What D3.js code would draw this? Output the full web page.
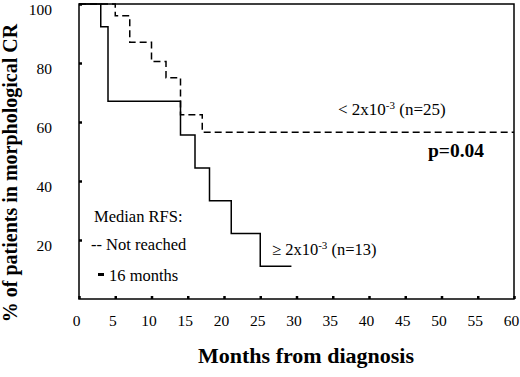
<!DOCTYPE html>
<html>
<head>
<meta charset="utf-8">
<script src="https://cdn.jsdelivr.net/npm/d3@7"></script>
<style>
  body { margin: 0; background: #fff; }
  svg text { font-family: "Liberation Serif", "Times New Roman", serif !important; }
</style>
</head>
<body>
<div id="chart"></div>
<script>
// low MRD group (n=25), dashed
const lowMonths = [0, 5, 7, 10, 12, 14, 17, 60];
const lowPct    = [100, 96, 87, 80.5, 75, 62.5, 56.5, 56.5];

// high MRD group (n=13), solid
const highMonths = [0, 3, 4, 14, 16, 18, 21, 25, 29.3];
const highPct    = [100, 92.3, 67, 55.6, 44.4, 33.3, 22.2, 11.1, 11.1];

const xTicks = [0, 5, 10, 15, 20, 25, 30, 35, 40, 45, 50, 55, 60];
const yTicks = [20, 40, 60, 80, 100];

var svg = d3.select("#chart").append("svg")
    .attr("width", 520)
    .attr("height", 377);

var x = d3.scaleLinear().domain([0, 60]).range([79, 514]);
var y = d3.scaleLinear().domain([0, 100]).range([299, 4]);

//frame
svg.append("rect")
    .attr("x", x(0)).attr("y", y(100))
    .attr("width", x(60) - x(0)).attr("height", y(0) - y(100))
    .attr("fill", "none").attr("stroke", "#000").attr("stroke-width", 1.5);

//x axis
var xAxis = svg.append("g")
    .attr("transform", "translate(0," + y(0) + ")")
    .call(d3.axisBottom(x).tickValues(xTicks).tickSizeInner(-3).tickSizeOuter(0).tickPadding(16));
xAxis.attr("font-size", 15.5);
xAxis.select(".domain").remove();
xAxis.selectAll("line").attr("stroke-width", 2.5);
xAxis.selectAll("text").attr("dx", -3);

//y axis
var yAxis = svg.append("g")
    .attr("transform", "translate(" + x(0) + ",0)")
    .call(d3.axisLeft(y).tickValues(yTicks).tickSizeInner(-3).tickSizeOuter(0).tickPadding(27));
yAxis.attr("font-size", 15.5);
yAxis.select(".domain").remove();
yAxis.selectAll("line").attr("stroke-width", 2.5);
yAxis.selectAll("text").attr("dy", "0.7em");

var line = d3.line()
    .x(d => x(d[0]))
    .y(d => y(d[1]))
    .curve(d3.curveStepAfter);

svg.append("path")
    .datum(d3.zip(highMonths, highPct))
    .attr("d", line)
    .attr("fill", "none").attr("stroke", "#000").attr("stroke-width", 1.5);

svg.append("path")
    .datum(d3.zip(lowMonths, lowPct))
    .attr("d", line)
    .attr("fill", "none").attr("stroke", "#000").attr("stroke-width", 1.5)
    .attr("stroke-dasharray", "7,4");

//labels
var lbl1 = svg.append("text").attr("x", 338).attr("y", 115).style("font-size", "17px");
lbl1.append("tspan").text("< 2x10");
lbl1.append("tspan").attr("dy", -6).style("font-size", "11px").text("-3");
lbl1.append("tspan").attr("dy", 6).text(" (n=25)");

var lbl2 = svg.append("text").attr("x", 272).attr("y", 255).style("font-size", "16.5px");
lbl2.append("tspan").text("\u2265 2x10");
lbl2.append("tspan").attr("dy", -6).style("font-size", "11px").text("-3");
lbl2.append("tspan").attr("dy", 6).text(" (n=13)");

svg.append("text").attr("x", 428).attr("y", 157)
    .style("font-size", "19.5px").style("font-weight", "bold").text("p=0.04");

svg.append("text").attr("x", 94).attr("y", 222).style("font-size", "16.5px").text("Median RFS:");
svg.append("text").attr("x", 91).attr("y", 250).style("font-size", "16.5px").text("-- Not reached");
svg.append("rect").attr("x", 98).attr("y", 273).attr("width", 6).attr("height", 3).attr("fill", "#000");
svg.append("text").attr("x", 109).attr("y", 281).style("font-size", "16.5px").text("16 months");

//axis titles
svg.append("text")
    .attr("text-anchor", "middle")
    .attr("transform", "translate(17,173) rotate(-90)")
    .style("font-size", "20px").style("font-weight", "bold")
    .text("% of patients in morphological CR");

svg.append("text")
    .attr("text-anchor", "middle")
    .attr("x", 306).attr("y", 363)
    .style("font-size", "22px").style("font-weight", "bold")
    .text("Months from diagnosis");
</script>
</body>
</html>
